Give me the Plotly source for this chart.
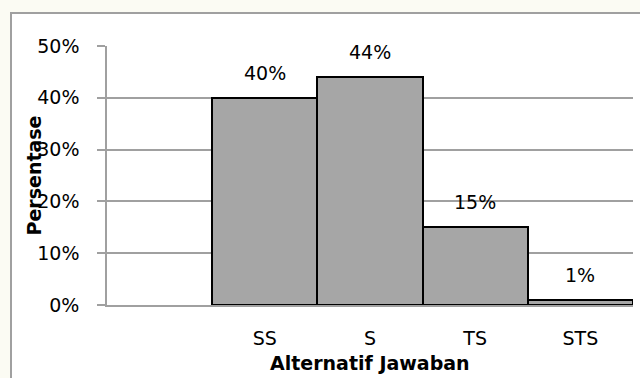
import plotly.graph_objects as go

# Response categories (the first slot is left empty on the axis)
categories = [" ", "SS", "S", "TS", "STS"]
percentages = [None, 0.40, 0.44, 0.15, 0.01]
y_ticks = [0, 0.1, 0.2, 0.3, 0.4, 0.5]

FONT = "DejaVu Sans"
W, H = 640, 378
L, R, T, B = 107, 7, 46, 73
PW, PH = W - L - R, H - T - B


def px_x(p):
    return (p - L) / PW


def px_y(p):
    return (H - B - p) / PH


fig = go.Figure()
fig.add_trace(go.Bar(
    x=categories,
    y=percentages,
    marker=dict(color="#a6a6a6", line=dict(color="#000000", width=2)),
    width=1.0,
    hoverinfo="skip",
))

# Value labels above each bar
for cat, val in zip(categories, percentages):
    if val is None:
        continue
    fig.add_annotation(
        x=cat, y=val, xref="x", yref="y",
        text=f"{round(val * 100)}%",
        showarrow=False, yanchor="middle", yshift=25,
        font=dict(family=FONT, size=19, color="#000000"),
    )

# Axis titles
fig.add_annotation(
    x=px_x(33), y=0.5, xref="paper", yref="paper",
    text="<b>Persentase</b>", textangle=-90, showarrow=False,
    xanchor="center", yanchor="middle",
    font=dict(family=FONT, size=19, color="#000000"),
)
fig.add_annotation(
    x=0.5, y=px_y(363), xref="paper", yref="paper",
    text="<b>Alternatif Jawaban</b>", showarrow=False,
    xanchor="center", yanchor="middle",
    font=dict(family=FONT, size=19, color="#000000"),
)

# Chart frame
fig.add_shape(
    type="rect", xref="paper", yref="paper",
    x0=px_x(11), x1=px_x(660), y0=px_y(400), y1=px_y(13),
    fillcolor="#ffffff", line=dict(color="#a0a0a0", width=2),
    layer="below",
)

fig.update_layout(
    width=W, height=H,
    margin=dict(l=L, r=R, t=T, b=B, pad=0),
    paper_bgcolor="#fbfbf3",
    plot_bgcolor="rgba(0,0,0,0)",
    bargap=0,
    showlegend=False,
    font=dict(family=FONT, size=19, color="#000000"),
)
fig.update_xaxes(
    type="category",
    showgrid=False,
    showline=True, linecolor="#a0a0a0", linewidth=1.5,
    ticks="",
    ticklabelstandoff=15,
    tickfont=dict(family=FONT, size=19, color="#000000"),
)
fig.update_yaxes(
    range=[0, 0.5],
    tickvals=y_ticks,
    tickformat=".0%",
    showgrid=True, gridcolor="#a0a0a0", gridwidth=1.5,
    showline=True, linecolor="#a0a0a0", linewidth=1.5,
    ticks="outside", ticklen=8, tickcolor="#a0a0a0", tickwidth=1.5,
    ticklabelstandoff=14,
    zeroline=False,
    tickfont=dict(family=FONT, size=19, color="#000000"),
)

fig.write_html("out.html")
